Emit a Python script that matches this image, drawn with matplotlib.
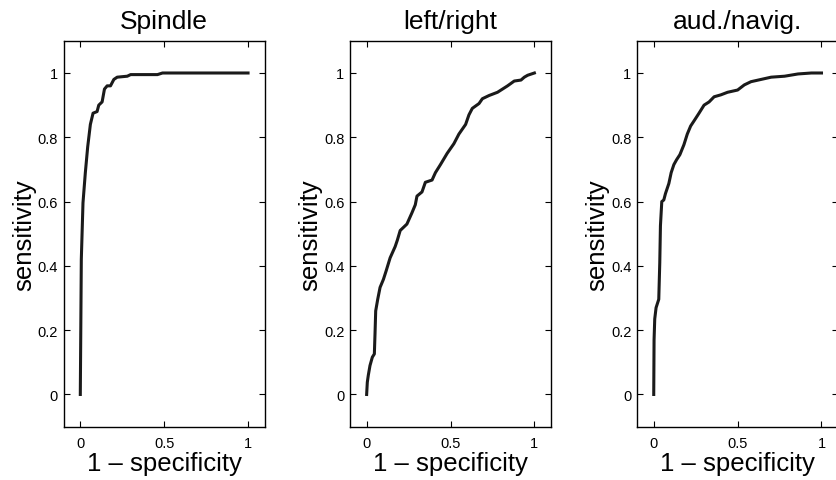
import matplotlib.pyplot as plt
import numpy as np

plt.rcParams["font.family"] = ["Liberation Sans", "DejaVu Sans"]

titles = ["Spindle", "left/right", "aud./navig."]

spindle_fpr = [0, 0.006, 0.016, 0.03, 0.044, 0.06, 0.076, 0.1, 0.11, 0.13, 0.144,
               0.16, 0.18, 0.2, 0.22, 0.28, 0.3, 0.46, 0.49, 1.0]
spindle_tpr = [0, 0.42, 0.596, 0.69, 0.77, 0.84, 0.875, 0.88, 0.9, 0.91, 0.95,
               0.96, 0.96, 0.98, 0.987, 0.99, 0.995, 0.995, 1.0, 1.0]

lr_fpr = [0, 0.004, 0.01, 0.02, 0.034, 0.046, 0.05, 0.054, 0.066, 0.08, 0.1, 0.116,
          0.14, 0.17, 0.183, 0.2, 0.22, 0.24, 0.27, 0.29, 0.3, 0.33, 0.35, 0.39,
          0.41, 0.44, 0.48, 0.52, 0.55, 0.59, 0.61, 0.63, 0.67, 0.69, 0.73, 0.78,
          0.81, 0.84, 0.88, 0.92, 0.94, 0.96, 1.0]
lr_tpr = [0, 0.038, 0.06, 0.09, 0.116, 0.126, 0.19, 0.26, 0.296, 0.333, 0.358, 0.384,
          0.425, 0.46, 0.48, 0.51, 0.52, 0.53, 0.565, 0.59, 0.617, 0.63, 0.66, 0.667,
          0.69, 0.715, 0.75, 0.78, 0.81, 0.84, 0.87, 0.89, 0.905, 0.92, 0.93, 0.94,
          0.95, 0.96, 0.975, 0.978, 0.987, 0.993, 1.0]

an_fpr = [0, 0.002, 0.006, 0.014, 0.03, 0.036, 0.04, 0.048, 0.06, 0.07, 0.09, 0.104,
          0.12, 0.136, 0.156, 0.18, 0.2, 0.22, 0.244, 0.27, 0.3, 0.33, 0.36, 0.4,
          0.44, 0.5, 0.54, 0.58, 0.64, 0.7, 0.78, 0.86, 0.94, 1.0]
an_tpr = [0, 0.17, 0.235, 0.27, 0.296, 0.41, 0.525, 0.6, 0.605, 0.625, 0.656, 0.69,
          0.715, 0.73, 0.746, 0.777, 0.81, 0.835, 0.854, 0.875, 0.9, 0.91, 0.926,
          0.932, 0.94, 0.947, 0.963, 0.973, 0.98, 0.987, 0.99, 0.997, 1.0, 1.0]

curves = [(spindle_fpr, spindle_tpr), (lr_fpr, lr_tpr), (an_fpr, an_tpr)]

fig = plt.figure(figsize=(8.37, 4.81), dpi=100)
lefts = [0.0759, 0.418, 0.761]
for left, title, (fpr, tpr) in zip(lefts, titles, curves):
    ax = fig.add_axes([left, 0.111, 0.2405, 0.802])
    ax.plot(fpr, tpr, color="#1a1a1a", lw=2.2)
    ax.set_xlim(-0.1, 1.1)
    ax.set_ylim(-0.1, 1.1)
    ax.set_xticks([0, 0.5, 1])
    ax.set_xticklabels(["0", "0.5", "1"])
    ax.set_yticks(np.arange(0, 1.01, 0.2))
    ax.set_yticklabels(["0", "0.2", "0.4", "0.6", "0.8", "1"])
    ax.tick_params(direction="in", top=True, right=True, length=4, width=0.8,
                   labelsize=10.5)
    ax.tick_params(axis="x", pad=6.5)
    ax.tick_params(axis="y", pad=4)
    for sp in ax.spines.values():
        sp.set_linewidth(1.0)
    ax.set_title(title, fontsize=19, pad=9)
    ax.set_xlabel("1 \u2013 specificity", fontsize=18.5, labelpad=1)
    ax.set_ylabel("sensitivity", fontsize=18.5, labelpad=1)

fig.savefig("out.png", dpi=100)
